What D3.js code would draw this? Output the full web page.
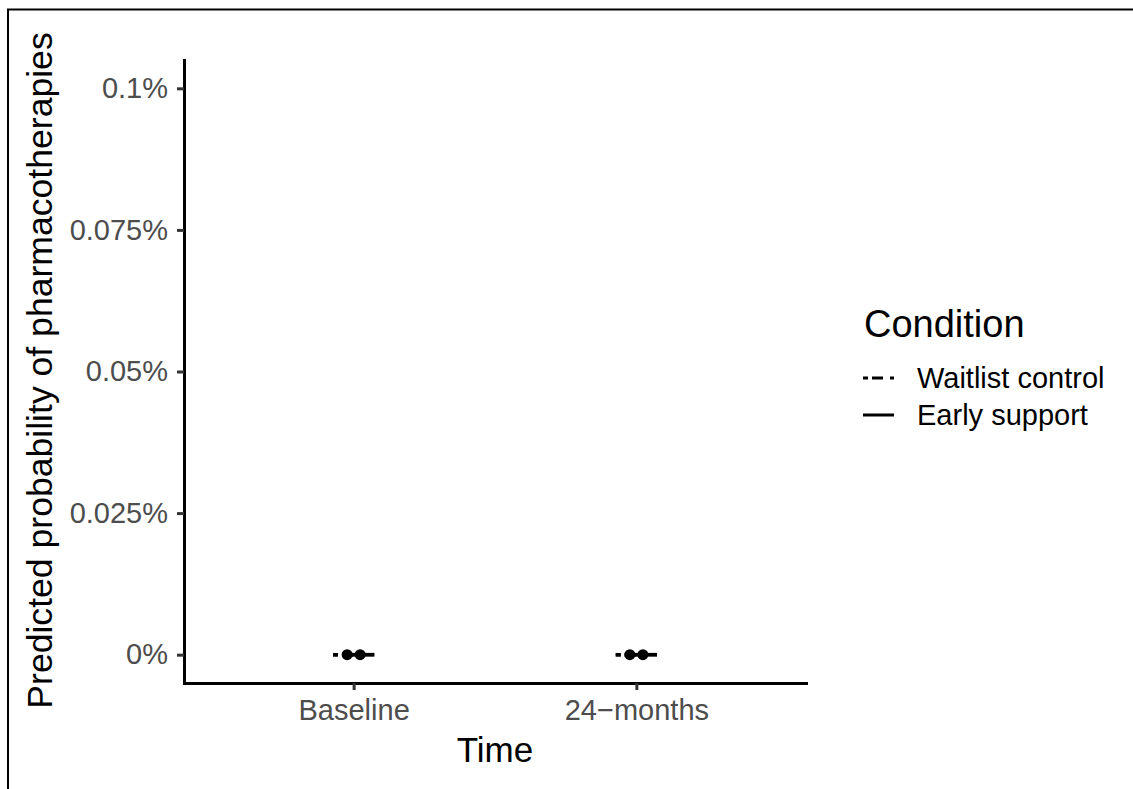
<!DOCTYPE html>
<html lang="en">
<head>
    <meta charset="UTF-8">
    <title>Predicted probability of pharmacotherapies</title>
    <style>
        body {
            margin: 0;
            background: #fff;
            font-family: "Liberation Sans", Arial, sans-serif;
        }
        .axis .domain {
            stroke: #000;
            stroke-width: 3px;
            stroke-linecap: square;
        }
        .axis .tick line {
            stroke: #333;
            stroke-width: 3px;
        }
        .axis .tick text {
            fill: #4d4d4d;
            font-size: 29px;
            font-family: "Liberation Sans", Arial, sans-serif;
        }
    </style>
</head>
<body>
    <div id="chart"></div>

    <script src="https://d3js.org/d3.v7.min.js"></script>
    <script>
        // data
        var times = ["Baseline", "24\u2212months"];
        var conditions = ["Waitlist control", "Early support"];
        var waitlistProb = [0, 0];
        var waitlistLower = [0, 0];
        var waitlistUpper = [0, 0];
        var earlyProb = [0, 0];
        var earlyLower = [0, 0];
        var earlyUpper = [0, 0];
        var yLimits = [0, 0.001];
        var yTickValues = [0, 0.00025, 0.0005, 0.00075, 0.001];
        var yTickLabels = ["0%", "0.025%", "0.05%", "0.075%", "0.1%"];

        var width = 1133,
            height = 789;

        var panel = {left: 184, right: 806, top: 60, bottom: 683};

        var svg = d3.select("#chart").append("svg")
            .attr("width", width)
            .attr("height", height);

        // outer frame (cut at right and bottom in the original)
        svg.append("rect")
            .attr("x", 8)
            .attr("y", 9.5)
            .attr("width", 1300)
            .attr("height", 1000)
            .attr("fill", "none")
            .attr("stroke", "#000")
            .attr("stroke-width", 2);

        var x = d3.scalePoint()
            .domain(times)
            .range([panel.left, panel.right])
            .padding(0.6);

        var pad = (yLimits[1] - yLimits[0]) * 0.05;
        var y = d3.scaleLinear()
            .domain([yLimits[0] - pad, yLimits[1] + pad])
            .range([panel.bottom, panel.top]);

        var dodge = 0.023 * x.step();
        var barHalf = 0.05 * x.step();

        var series = [
            {name: conditions[0], prob: waitlistProb, lo: waitlistLower, hi: waitlistUpper, offset: -dodge, dash: "5,4,11,7"},
            {name: conditions[1], prob: earlyProb, lo: earlyLower, hi: earlyUpper, offset: dodge, dash: null}
        ];

        // axes
        svg.append("g")
            .attr("class", "axis")
            .attr("transform", "translate(" + panel.left + ",0)")
            .call(d3.axisLeft(y)
                .tickValues(yTickValues)
                .tickFormat(function(d, i) { return yTickLabels[i]; })
                .tickSize(7)
                .tickSizeOuter(0)
                .tickPadding(9));

        svg.append("g")
            .attr("class", "axis")
            .attr("transform", "translate(0," + panel.bottom + ")")
            .call(d3.axisBottom(x)
                .tickSize(7)
                .tickSizeOuter(0)
                .tickPadding(9));

        // error bars (collapsed to horizontal segments) then points
        series.forEach(function(s) {
            var g = svg.append("g");
            times.forEach(function(t, i) {
                var cx = x(t) + s.offset;
                [s.lo[i], s.hi[i]].forEach(function(v) {
                    g.append("line")
                        .attr("x1", cx - barHalf)
                        .attr("x2", cx + barHalf)
                        .attr("y1", y(v))
                        .attr("y2", y(v))
                        .attr("stroke", "#000")
                        .attr("stroke-width", 3.5)
                        .attr("stroke-dasharray", s.dash);
                });
                g.append("line")
                    .attr("x1", cx).attr("x2", cx)
                    .attr("y1", y(s.lo[i])).attr("y2", y(s.hi[i]))
                    .attr("stroke", "#000")
                    .attr("stroke-width", 3.5);
            });
        });

        series.forEach(function(s) {
            svg.append("g").selectAll("circle")
                .data(times)
                .enter().append("circle")
                .attr("cx", function(t) { return x(t) + s.offset; })
                .attr("cy", function(t, i) { return y(s.prob[i]); })
                .attr("r", 5.5)
                .attr("fill", "#000");
        });

        // axis titles
        svg.append("text")
            .attr("x", (panel.left + panel.right) / 2)
            .attr("y", 762)
            .attr("text-anchor", "middle")
            .attr("font-size", 35)
            .text("Time");

        svg.append("text")
            .attr("transform", "translate(52," + ((panel.top + panel.bottom) / 2 - 1) + ") rotate(-90)")
            .attr("text-anchor", "middle")
            .attr("font-size", 35.6)
            .text("Predicted probability of pharmacotherapies");

        // legend
        var legend = svg.append("g").attr("transform", "translate(863,0)");

        legend.append("text")
            .attr("x", 1)
            .attr("y", 337)
            .attr("font-size", 38)
            .text("Condition");

        var keyY = [378, 415];
        series.forEach(function(s, i) {
            legend.append("line")
                .attr("x1", 0).attr("x2", 31)
                .attr("y1", keyY[i]).attr("y2", keyY[i])
                .attr("stroke", "#000")
                .attr("stroke-width", 3)
                .attr("stroke-dasharray", s.dash);
            legend.append("text")
                .attr("x", 54)
                .attr("y", keyY[i] + 10)
                .attr("font-size", 29)
                .text(s.name);
        });
    </script>
</body>
</html>
